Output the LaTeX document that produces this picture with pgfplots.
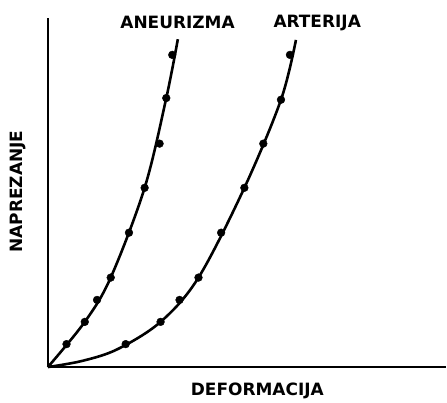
\documentclass[border=0pt]{standalone}
\usepackage{pgfplots}
\pgfplotsset{compat=1.18}
\usepackage{fontspec}
\setmainfont{DejaVu Sans}
\begin{document}
\begin{tikzpicture}
\begin{axis}[
  scale only axis, width=399pt, height=350pt,
  xmin=0, xmax=399, ymin=0, ymax=350,
  axis lines=left, axis line style={-, line width=2.3pt},
  xtick=\empty, ytick=\empty,
  clip=false,
]
\addplot[black, line width=2.6pt, smooth, tension=0.55] coordinates {
 (0,0) (37,45.3) (63,89.7) (97,179.7) (118.7,269.7) (130.3,328.7)};
\addplot[black, only marks, mark=*, mark size=3.9pt] coordinates {
 (18.7,23) (37,45.3) (49.3,67.3) (63,89.7) (81.3,134.7) (97,179.7) (112,224) (118.7,269.7) (124.7,313)};
\addplot[black, line width=2.6pt, smooth, tension=0.55] coordinates {
 (0,0) (35,6.3) (70,18) (113,45.3) (151,89.7) (197,179.7) (233.7,268) (248.7,328)};
\addplot[black, only marks, mark=*, mark size=3.9pt] coordinates {
 (78,23) (113,45.3) (132,67.3) (151,89.7) (173.7,134.7) (197,179.7) (216,224) (233.7,268) (242.7,313)};
\node[font=\fontsize{17}{17}\selectfont\bfseries] at (axis cs:130,346) {ANEURIZMA};
\node[font=\fontsize{17}{17}\selectfont\bfseries] at (axis cs:270,345) {ARTERIJA};
\node[font=\fontsize{17}{17}\selectfont\bfseries, rotate=90] at (axis cs:-30,176) {NAPREZANJE};
\node[font=\fontsize{17}{17}\selectfont\bfseries] at (axis cs:210,-24) {DEFORMACIJA};
\path[draw=none] (axis cs:-48,-32) rectangle (axis cs:399,368);
\end{axis}
\end{tikzpicture}
\end{document}
